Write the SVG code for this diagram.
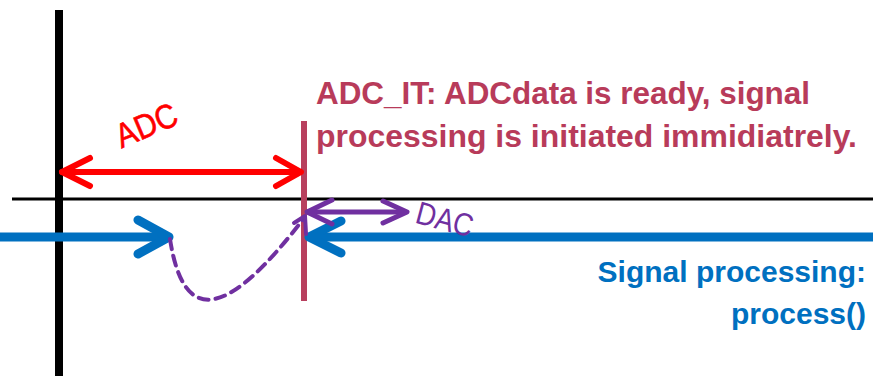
<svg xmlns="http://www.w3.org/2000/svg" width="873" height="376" viewBox="0 0 873 376">
<style>
.ln{fill:none;stroke-linecap:round;stroke-linejoin:round}
.red{stroke:#FF0000;stroke-width:6}
.blue{stroke:#0070C0;stroke-width:9}
.pur{stroke:#7030A0;stroke-width:5}
.lbl{font-family:"Liberation Sans",Arial,sans-serif}
.hdr{font-family:"Liberation Sans",Arial,sans-serif;font-weight:bold;font-size:31px}
.sp{font-family:"Liberation Sans",Arial,sans-serif;font-weight:bold;font-size:30px}
</style>
<rect width="873" height="376" fill="#ffffff"/>
<g id="axes">
<line x1="59" y1="10" x2="59" y2="376" stroke="#000" stroke-width="8"/>
<line x1="12" y1="199" x2="873" y2="199" stroke="#000" stroke-width="3"/>
</g>
<g id="adc-it-marker">
<line x1="304" y1="121" x2="304" y2="301" stroke="#B8405E" stroke-width="6"/>
<text class="hdr" fill="#B83B5A" x="316" y="104" textLength="494" lengthAdjust="spacingAndGlyphs">ADC_IT: ADCdata is ready, signal</text>
<text class="hdr" fill="#B83B5A" x="316" y="147" textLength="541" lengthAdjust="spacingAndGlyphs">processing is initiated immidiatrely.</text>
</g>
<g id="signal-processing">
<text class="sp" fill="#0070C0" x="866" y="282" text-anchor="end">Signal processing:</text>
<text class="sp" fill="#0070C0" x="866" y="324" text-anchor="end">process()</text>
</g>
<g id="connectors">
<g id="adc-arrow">
<line class="ln red" x1="62" y1="172" x2="300" y2="172"/>
<polyline class="ln red" points="90,158 62,172 90,186"/>
<polyline class="ln red" points="276,158 301,172 276,186"/>
<text class="lbl" fill="#FF0000" font-size="34" x="-32" y="0" textLength="64" lengthAdjust="spacingAndGlyphs" stroke="#FF0000" stroke-width="0.6" transform="translate(151,136) rotate(-23)">ADC</text>
</g>
<g id="blue-left">
<line class="ln blue" x1="0" y1="237" x2="166" y2="237"/>
<polyline class="ln blue" points="138,220 169,237 138,254"/>
</g>
<g id="blue-right">
<line class="ln blue" x1="312" y1="237" x2="880" y2="237"/>
<polyline class="ln blue" points="341,221 309,237 341,253"/>
</g>
<g id="dac-arrow">
<line class="ln pur" x1="308" y1="212" x2="405" y2="212"/>
<polyline class="ln pur" points="332,200 307,212 332,224"/>
<polyline class="ln pur" points="383,201 407,212 383,223"/>
<text class="lbl" fill="#7030A0" font-size="32" x="-29" y="0" textLength="58" lengthAdjust="spacingAndGlyphs" transform="translate(442,230) rotate(15)">DAC</text>
</g>
<g id="dashed-link">
<path class="ln" d="M170,239 C184,330 230,315 304,218" stroke="#7030A0" stroke-width="4" stroke-dasharray="10,7" stroke-linecap="butt"/>
<polyline class="ln" points="294,223 305,216 306,234" stroke="#7030A0" stroke-width="4"/>
</g>
</g>
</svg>
